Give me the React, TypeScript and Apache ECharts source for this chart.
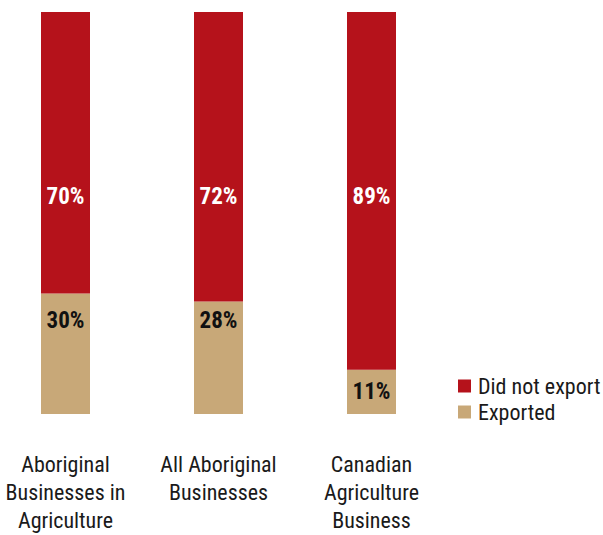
import React, { useEffect, useRef } from "react";
import * as echarts from "echarts";

const categories = [
  "Aboriginal\nBusinesses in\nAgriculture",
  "All Aboriginal\nBusinesses",
  "Canadian\nAgriculture\nBusiness",
];
const exported = [30, 28, 11];
const didNotExport = [70, 72, 89];

const RED = "#B5121B";
const TAN = "#C8A878";
const FONT = "'Roboto Condensed', 'Liberation Sans Narrow', 'Arial Narrow', Roboto, sans-serif";

// label vertical placement inside each segment (px from segment top)
const redLabelY = [184, 184, 184];
const tanLabelY = [27, 19, 22];

export default function App() {
  const ref = useRef<HTMLDivElement>(null);
  useEffect(() => {
    if (!ref.current) return;
    const chart = echarts.init(ref.current, undefined, { renderer: "svg" });
    chart.setOption({
      animation: false,
      grid: { left: 65.5, right: 231.5, top: 12, bottom: 121, containLabel: false, outerBoundsMode: "none" },
      legend: {
        orient: "vertical",
        left: 453,
        top: 370,
        itemWidth: 13,
        itemHeight: 13,
        itemGap: 4,
        icon: "rect",
        textStyle: { fontFamily: FONT, fontSize: 22, color: "#1a1a1a", lineHeight: 21, padding: [0, 0, 0, 2] },
        data: ["Did not export", "Exported"],
      },
      xAxis: {
        type: "category",
        data: categories,
        boundaryGap: false,
        axisLine: { show: false },
        axisTick: { show: false },
        axisLabel: {
          interval: 0,
          margin: 36,
          fontFamily: FONT,
          fontSize: 22,
          lineHeight: 28,
          color: "#1a1a1a",
          align: "center",
          verticalAlign: "top",
        },
      },
      yAxis: { type: "value", min: 0, max: 100, show: false },
      series: [
        {
          name: "Exported",
          type: "bar",
          stack: "total",
          barWidth: 49,
          itemStyle: { color: TAN },
          data: exported.map((v, i) => ({
            value: v,
            label: {
              show: true,
              position: ["50%", tanLabelY[i]],
              align: "center",
              verticalAlign: "middle",
              formatter: "{c}%",
              color: "#111",
              fontFamily: FONT,
              fontWeight: "bold",
              fontSize: 23,
            },
          })),
        },
        {
          name: "Did not export",
          type: "bar",
          stack: "total",
          barWidth: 49,
          itemStyle: { color: RED },
          data: didNotExport.map((v, i) => ({
            value: v,
            label: {
              show: true,
              position: ["50%", redLabelY[i]],
              align: "center",
              verticalAlign: "middle",
              formatter: "{c}%",
              color: "#fff",
              fontFamily: FONT,
              fontWeight: "bold",
              fontSize: 23,
            },
          })),
        },
      ],
    });
    return () => chart.dispose();
  }, []);
  return (
    <>
      <style>{"#root svg text { font-stretch: condensed; }"}</style>
      <div ref={ref} style={{ width: 603, height: 535, position: "absolute", left: 0, top: 0 }} />
    </>
  );
}
